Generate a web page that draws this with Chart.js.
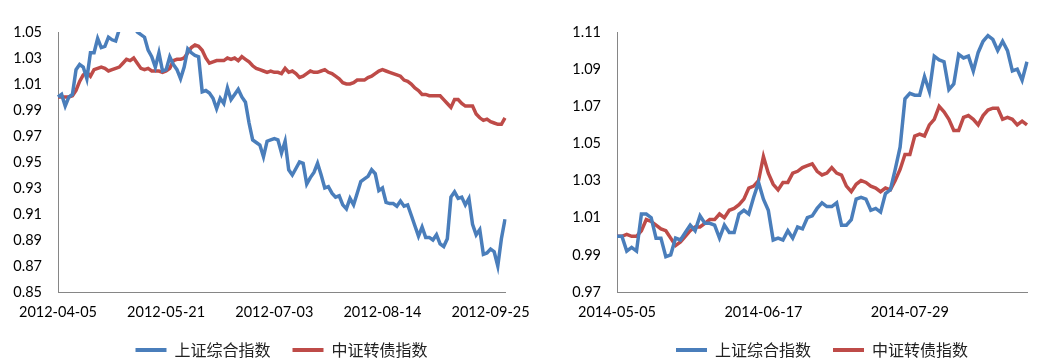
<!DOCTYPE html>
<html>
<head>
<meta charset="utf-8">
<script src="https://cdn.jsdelivr.net/npm/chart.js@4"></script>
<style>
  html, body { margin: 0; padding: 0; background: #fff; overflow: hidden; }
  canvas { position: absolute; top: 0; }
  #chart2012 { left: 0; }
  #chart2014 { left: 560px; }
</style>
</head>
<body>
<canvas id="chart2012" width="560" height="368"></canvas>
<canvas id="chart2014" width="482" height="368"></canvas>
<script>
// Series names (legend)
const seriesNames = ['上证综合指数', '中证转债指数'];

// Labeled categories, one label every 30 trading days
const tickEvery = 30;
const ticks2012 = ['2012-04-05', '2012-05-21', '2012-07-03', '2012-08-14', '2012-09-25'];
const ticks2014 = ['2014-05-05', '2014-06-17', '2014-07-29'];

// 2012-04-05 .. 2012-09, normalised to 1
const sse2012 = [
  1.000, 1.002, 0.993, 1.000, 1.002, 1.021, 1.025, 1.023, 1.014, 1.034,
  1.034, 1.045, 1.038, 1.039, 1.046, 1.044, 1.043, 1.052, 1.058, 1.062,
  1.060, 1.055, 1.050, 1.048, 1.046, 1.036, 1.031, 1.023, 1.034, 1.020,
  1.021, 1.031, 1.025, 1.021, 1.014, 1.023, 1.037, 1.034, 1.032, 1.031,
  1.004, 1.005, 1.003, 0.999, 0.991, 0.999, 0.995, 1.007, 0.998, 1.002,
  1.006, 1.000, 0.996, 0.980, 0.967, 0.965, 0.963, 0.954, 0.966, 0.967,
  0.968, 0.967, 0.957, 0.966, 0.944, 0.940, 0.945, 0.950, 0.949, 0.933,
  0.938, 0.942, 0.949, 0.940, 0.930, 0.931, 0.926, 0.923, 0.924, 0.917,
  0.914, 0.922, 0.917, 0.926, 0.935, 0.937, 0.939, 0.944, 0.941, 0.928,
  0.930, 0.919, 0.918, 0.918, 0.916, 0.920, 0.916, 0.917, 0.909, 0.901,
  0.893, 0.900, 0.892, 0.892, 0.890, 0.894, 0.887, 0.885, 0.891, 0.923,
  0.927, 0.922, 0.923, 0.917, 0.922, 0.902, 0.894, 0.898, 0.879, 0.880,
  0.883, 0.881, 0.870, 0.891, 0.906
];
const cb2012 = [
  1.000, 1.000, 1.000, 1.000, 1.001, 1.005, 1.012, 1.017, 1.019, 1.016,
  1.021, 1.022, 1.023, 1.022, 1.020, 1.021, 1.022, 1.023, 1.026, 1.029,
  1.028, 1.030, 1.026, 1.022, 1.021, 1.022, 1.020, 1.020, 1.020, 1.019,
  1.020, 1.022, 1.028, 1.029, 1.029, 1.030, 1.034, 1.038, 1.040, 1.039,
  1.036, 1.030, 1.026, 1.027, 1.028, 1.028, 1.028, 1.030, 1.029, 1.030,
  1.028, 1.031, 1.029, 1.027, 1.024, 1.022, 1.021, 1.020, 1.019, 1.020,
  1.019, 1.019, 1.018, 1.022, 1.019, 1.020, 1.018, 1.015, 1.016, 1.018,
  1.020, 1.019, 1.019, 1.020, 1.021, 1.019, 1.018, 1.016, 1.014, 1.011,
  1.010, 1.010, 1.011, 1.013, 1.013, 1.013, 1.015, 1.016, 1.018, 1.020,
  1.021, 1.020, 1.019, 1.018, 1.017, 1.016, 1.013, 1.012, 1.010, 1.007,
  1.005, 1.002, 1.002, 1.001, 1.001, 1.001, 1.001, 0.998, 0.995, 0.992,
  0.998, 0.998, 0.995, 0.993, 0.993, 0.993, 0.987, 0.984, 0.982, 0.983,
  0.981, 0.980, 0.979, 0.979, 0.984
];

// 2014-05-05 .. 2014-09
const sse2014 = [
  1.000, 1.000, 0.992, 0.994, 0.992, 1.012, 1.012, 1.010, 0.999, 0.999,
  0.989, 0.990, 0.999, 0.998, 1.002, 1.006, 1.003, 1.011, 1.007, 1.007,
  1.006, 0.999, 1.006, 1.002, 1.002, 1.012, 1.014, 1.012, 1.021, 1.029,
  1.020, 1.014, 0.998, 0.999, 0.998, 1.003, 0.999, 1.005, 1.004, 1.010,
  1.011, 1.015, 1.018, 1.016, 1.016, 1.018, 1.006, 1.006, 1.009, 1.020,
  1.021, 1.020, 1.014, 1.015, 1.013, 1.023, 1.025, 1.036, 1.048, 1.074,
  1.077, 1.076, 1.076, 1.086, 1.078, 1.097, 1.095, 1.094, 1.079, 1.082,
  1.098, 1.096, 1.097, 1.089, 1.099, 1.105, 1.108, 1.106, 1.100, 1.105,
  1.100, 1.089, 1.090, 1.084, 1.094
];
const cb2014 = [
  1.000, 1.000, 1.001, 1.000, 1.000, 1.003, 1.009, 1.008, 1.006, 1.004,
  1.003, 0.999, 0.995, 0.997, 1.000, 1.003, 1.005, 1.005, 1.007, 1.009,
  1.009, 1.012, 1.010, 1.014, 1.015, 1.017, 1.020, 1.026, 1.027, 1.030,
  1.043, 1.034, 1.028, 1.025, 1.029, 1.029, 1.034, 1.035, 1.037, 1.038,
  1.039, 1.035, 1.033, 1.034, 1.037, 1.034, 1.033, 1.027, 1.024, 1.028,
  1.030, 1.029, 1.027, 1.026, 1.024, 1.026, 1.025, 1.030, 1.036, 1.044,
  1.044, 1.054, 1.055, 1.054, 1.060, 1.063, 1.070, 1.067, 1.063, 1.057,
  1.057, 1.064, 1.065, 1.063, 1.060, 1.065, 1.068, 1.069, 1.069, 1.063,
  1.064, 1.063, 1.060, 1.062, 1.060
];

const BLUE = '#4A7EBB';
const RED = '#BE4B48';
const AXIS = '#868686';

Chart.defaults.font.family = 'Lato';
Chart.defaults.font.size = 14.5;
Chart.defaults.color = '#000';

// Build one chart; yWidth / padRight pin the plot area in the canvas
const makeChart = (id, sse, cb, tickLabels, yMin, yMax, yWidth, padRight) => {
  const line = (label, data, color) => ({
    label, data,
    borderColor: color,
    backgroundColor: color,
    borderWidth: 3.5,
    pointRadius: 0,
    tension: 0
  });

  return new Chart(document.getElementById(id), {
    type: 'line',
    data: {
      labels: sse.map((_, i) => i),
      datasets: [line(seriesNames[0], sse, BLUE), line(seriesNames[1], cb, RED)]
    },
    options: {
      responsive: false,
      animation: false,
      devicePixelRatio: 1,
      layout: { padding: { top: 32, right: padRight, bottom: 0, left: 0 } },
      plugins: {
        tooltip: { enabled: false },
        legend: {
          position: 'bottom',
          fullSize: false,
          labels: {
            boxWidth: 31,
            boxHeight: 4,
            padding: 22,
            color: '#222',
            font: { family: '"Noto Sans CJK SC"', size: 16 },
            generateLabels: chart => Chart.defaults.plugins.legend.labels.generateLabels(chart)
              .map(item => ({ ...item, lineWidth: 0 }))
          }
        }
      },
      scales: {
        x: {
          grid: { display: false, drawTicks: false },
          border: { color: AXIS, width: 1 },
          ticks: {
            autoSkip: false,
            maxRotation: 0,
            padding: 12,
            callback: (v, i) => i % tickEvery === 0 ? tickLabels[i / tickEvery] : null
          },
          afterFit: s => { s.height = 28; }
        },
        y: {
          min: yMin,
          max: yMax,
          grid: { display: false, drawTicks: false },
          border: { color: AXIS, width: 1 },
          ticks: {
            stepSize: 0.02,
            padding: 16,
            callback: v => v.toFixed(2)
          },
          afterFit: s => { s.width = yWidth; }
        }
      }
    }
  });
};

makeChart('chart2012', sse2012, cb2012, ticks2012, 0.85, 1.05, 58, 55);
makeChart('chart2014', sse2014, cb2014, ticks2014, 0.97, 1.11, 57, 15);
</script>
</body>
</html>
